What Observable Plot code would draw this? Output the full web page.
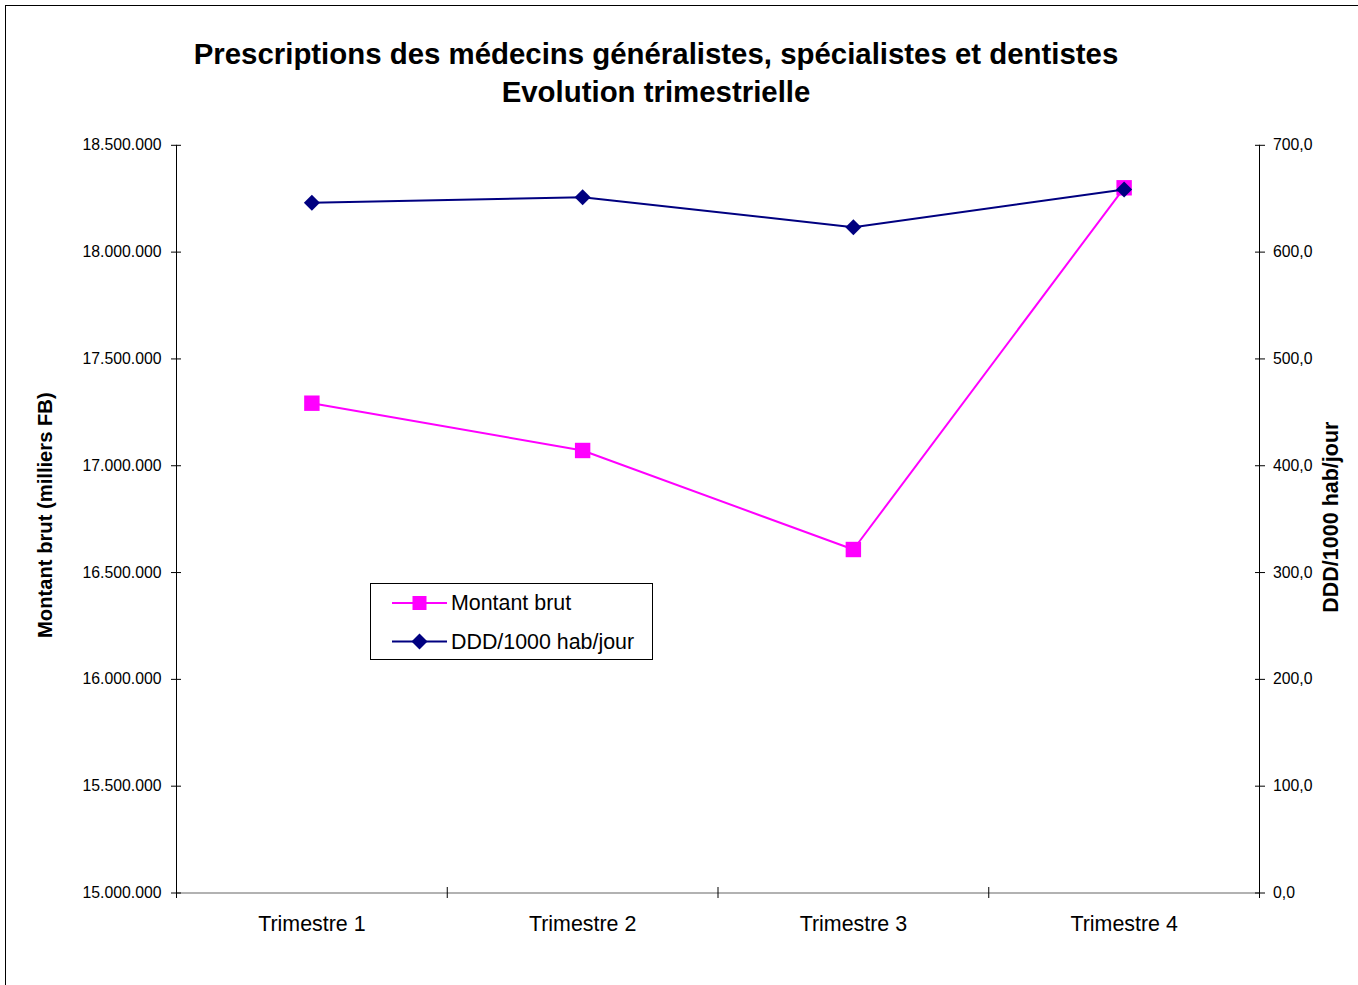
<!DOCTYPE html>
<html><head><meta charset="utf-8">
<script src="https://cdn.jsdelivr.net/npm/d3@7"></script>
<script src="https://cdn.jsdelivr.net/npm/@observablehq/plot@0.6"></script>
<style>
body{margin:0;background:#fff;font-family:Arial,"Liberation Sans",sans-serif;}
#wrap{position:relative;width:1358px;height:985px;overflow:hidden;background:#fff;}
#frame{position:absolute;left:5px;top:5px;width:1400px;height:1000px;border-left:1px solid #000;border-top:1px solid #000;pointer-events:none;}
#title{height:125px;width:1312px;box-sizing:border-box;padding-top:35px;text-align:center;font-weight:bold;font-size:29.4px;line-height:38px;color:#000;}
#legend{position:absolute;left:370px;top:583px;width:281px;height:75px;border:1px solid #000;background:#fff;}
#legend svg{display:block}
</style></head>
<body>
<div id="wrap">
  <div id="title"><div>Prescriptions des médecins généralistes, spécialistes et dentistes</div><div>Evolution trimestrielle</div></div>
  <div id="chart"></div>
  <div id="legend"></div>
  <div id="frame"></div>
</div>
<script>
const quarters = ["Trimestre 1", "Trimestre 2", "Trimestre 3", "Trimestre 4"];
const montant = [17292800, 17071400, 16607900, 18301100];
const ddd = [646.2, 651.4, 623.3, 658.6];
const leftTicks = [15000000, 15500000, 16000000, 16500000, 17000000, 17500000, 18000000, 18500000];
const rightTicks = [0, 100, 200, 300, 400, 500, 600, 700];
const seriesNames = ["Montant brut", "DDD/1000 hab/jour"];
const axisTitles = ["Montant brut (milliers FB)", "DDD/1000 hab/jour"];
const colors = ["#FF00FF", "#000080"];

const loc = d3.formatLocale({decimal: ",", thousands: ".", grouping: [3], currency: ["", ""]});
const fmtLeft = loc.format(",.0f");
const fmtRight = loc.format(".1f");
const toLeft = v => 15000000 + v * 5000;
const fromLeft = v => (v - 15000000) / 5000;

const data = quarters.map((q, i) => ({q, pos: i + 0.5, montant: montant[i], ddd: toLeft(ddd[i])}));

const H = 860;
const chart = Plot.plot({
  width: 1358,
  height: H,
  marginLeft: 176,
  marginRight: 99,
  marginTop: 19.8,
  marginBottom: 92.5,
  style: {fontFamily: "Arial, 'Liberation Sans', sans-serif", fontSize: "15px", color: "#000", background: "transparent"},
  x: {domain: [0, 4]},
  y: {domain: [15000000, 18500000]},
  marks: [
    Plot.ruleY([15000000], {stroke: "#666", strokeWidth: 1.2}),
    Plot.ruleX([0, 4], {stroke: "#000", strokeWidth: 1}),
    Plot.axisY(leftTicks, {anchor: "left", tickSize: 10, dx: 5, fill: "none", label: null, stroke: "#000"}),
    Plot.axisY(leftTicks, {anchor: "left", tickSize: 0, tickPadding: 15, tickFormat: fmtLeft, stroke: "none", fill: "#000", label: null, fontSize: 15.8}),
    Plot.axisY(rightTicks.map(toLeft), {anchor: "right", tickSize: 10, dx: -5, fill: "none", label: null, stroke: "#000"}),
    Plot.axisY(rightTicks.map(toLeft), {anchor: "right", tickSize: 0, tickPadding: 13.5, tickFormat: v => fmtRight(fromLeft(v)), stroke: "none", fill: "#000", label: null, fontSize: 15.8}),
    Plot.axisX([0, 1, 2, 3, 4], {anchor: "bottom", tickSize: 11, dy: -5.5, fill: "none", label: null, stroke: "#000"}),
    Plot.axisX(data.map(d => d.pos), {anchor: "bottom", tickSize: 0, tickPadding: 23, tickFormat: p => quarters[Math.floor(p)], stroke: "none", fill: "#000", label: null, fontSize: 21.4}),
    Plot.text([axisTitles[0]], {frameAnchor: "left", textAnchor: "middle", dx: -131, dy: -4, rotate: -90, fontWeight: "bold", fontSize: 20.2, fill: "#000"}),
    Plot.text([axisTitles[1]], {frameAnchor: "right", textAnchor: "middle", dx: 72, dy: -2, rotate: -90, fontWeight: "bold", fontSize: 21.5, fill: "#000"}),
    Plot.line(data, {x: "pos", y: "montant", stroke: colors[0], strokeWidth: 2}),
    Plot.dot(data, {x: "pos", y: "montant", symbol: "square", r: 8.7, fill: colors[0], stroke: "none"}),
    Plot.line(data, {x: "pos", y: "ddd", stroke: colors[1], strokeWidth: 2}),
    Plot.dot(data, {x: "pos", y: "ddd", symbol: "diamond2", r: 7.2, fill: colors[1], stroke: "none"})
  ]
});
document.getElementById("chart").appendChild(chart);

// legend
const ns = "http://www.w3.org/2000/svg";
const lg = document.createElementNS(ns, "svg");
lg.setAttribute("width", 281); lg.setAttribute("height", 75);
const rowsY = [19, 57.5];
seriesNames.forEach((name, i) => {
  const y = rowsY[i];
  const l = document.createElementNS(ns, "line");
  l.setAttribute("x1", 21); l.setAttribute("x2", 76); l.setAttribute("y1", y); l.setAttribute("y2", y);
  l.setAttribute("stroke", colors[i]); l.setAttribute("stroke-width", 2);
  lg.appendChild(l);
  let m;
  if (i === 0) {
    m = document.createElementNS(ns, "rect");
    m.setAttribute("x", 48.5 - 7); m.setAttribute("y", y - 7); m.setAttribute("width", 14); m.setAttribute("height", 14);
  } else {
    m = document.createElementNS(ns, "path");
    m.setAttribute("d", `M48.5,${y-8}L56.5,${y}L48.5,${y+8}L40.5,${y}Z`);
  }
  m.setAttribute("fill", colors[i]);
  lg.appendChild(m);
  const t = document.createElementNS(ns, "text");
  t.setAttribute("x", 80); t.setAttribute("y", y); t.setAttribute("dy", "0.35em");
  t.setAttribute("font-size", 21.4); t.setAttribute("font-family", "Arial, 'Liberation Sans', sans-serif");
  t.textContent = name;
  lg.appendChild(t);
});
document.getElementById("legend").appendChild(lg);
</script>
</body></html>
